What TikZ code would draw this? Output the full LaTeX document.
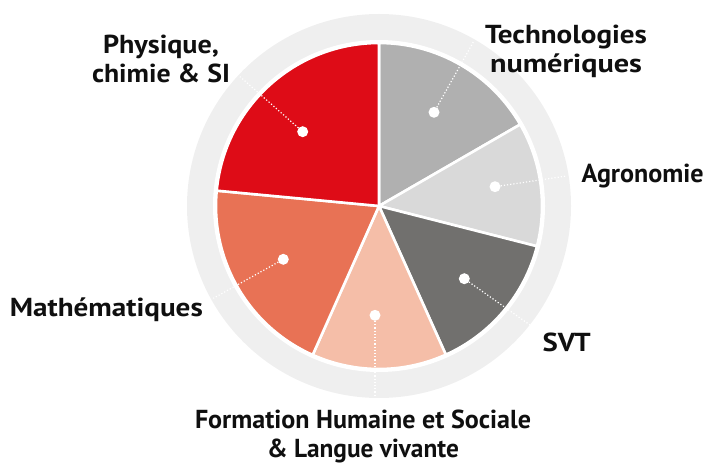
\documentclass[tikz,border=0pt]{standalone}
\usepackage{graphicx}
\usepackage{fontspec}
\setmainfont{PT Sans}
\definecolor{cphys}{RGB}{222,12,23}
\definecolor{ctech}{RGB}{176,176,176}
\definecolor{cagro}{RGB}{217,217,217}
\definecolor{csvt}{RGB}{113,112,110}
\definecolor{cfhs}{RGB}{245,190,168}
\definecolor{cmath}{RGB}{232,114,85}
\definecolor{cring}{RGB}{239,239,239}
\definecolor{ctext}{RGB}{15,15,15}
\newsavebox\lblbox
\newcommand\fitw[2]{\sbox\lblbox{#2}\pgfmathsetmacro\fitratio{#1/\the\wd\lblbox}\scalebox{\fitratio}[1]{\usebox\lblbox}}
\begin{document}
\begin{tikzpicture}[x=1pt,y=1pt,
  slice/.style={fill=#1,draw=white,line width=2.6pt,line join=round},
  dotmark/.style={circle,fill=white,draw=none,minimum size=11pt,inner sep=0pt},
  leader/.style={draw=white,line width=1.2pt,dotted},
  lab/.style={font=\fontsize{26}{29.4}\selectfont\bfseries,text=ctext,inner sep=0pt,align=center}]
\useasboundingbox (0,0) rectangle (708,466);
\coordinate (C) at (379,260);
\fill[cring] (C) circle[radius=192];
\fill[white] (C) circle[radius=166];
% slices
\path[slice=ctech] (C) -- ++(90:163) arc[start angle=90,end angle=30,radius=163] -- cycle;
\path[slice=cagro] (C) -- ++(30:163) arc[start angle=30,end angle=-14.3,radius=163] -- cycle;
\path[slice=csvt] (C) -- ++(-14.3:163) arc[start angle=-14.3,end angle=-65.8,radius=163] -- cycle;
\path[slice=cfhs] (C) -- ++(-65.8:163) arc[start angle=-65.8,end angle=-114,radius=163] -- cycle;
\path[slice=cmath] (C) -- ++(-114:163) arc[start angle=-114,end angle=-185.4,radius=163] -- cycle;
\path[slice=cphys] (C) -- ++(174.6:163) arc[start angle=174.6,end angle=90,radius=163] -- cycle;
% dots
\node[dotmark] (dphys) at (302.7,334.3) {};
\node[dotmark] (dtech) at (434,353.7) {};
\node[dotmark] (dagro) at (495,279.3) {};
\node[dotmark] (dsvt) at (464.3,187.3) {};
\node[dotmark] (dfhs) at (375,150.7) {};
\node[dotmark] (dmath) at (283.3,206.7) {};
% leader ends
\coordinate (ephys) at (240,389.3);
\coordinate (etech) at (473.3,424);
\coordinate (eagro) at (566.7,290);
\coordinate (esvt) at (530,141);
\coordinate (efhs) at (375,68);
\coordinate (emath) at (213.3,167.7);
\draw[leader] (dphys) -- (ephys);
\draw[leader] (dtech) -- (etech);
\draw[leader] (dagro) -- (eagro);
\draw[leader] (dsvt) -- (esvt);
\draw[leader] (dfhs) -- (efhs);
\draw[leader] (dmath) -- (emath);
% labels
\node[lab,anchor=north] (lphys) at (161,431.5) {\fitw{116}{Physique,}\\\fitw{138}{chimie \& SI}};
\node[lab,anchor=north] (ltech) at (566,441.5) {\fitw{162}{Technologies}\\\fitw{152}{numériques}};
\node[lab,anchor=base west] (lagro) at (581.5,283.3) {\fitw{122}{Agronomie}};
\node[lab,anchor=base west] (lsvt) at (542.5,114.3) {\fitw{48}{SVT}};
\node[lab,anchor=base east] (lmath) at (203,149.3) {\fitw{193}{Mathématiques}};
\node[lab,anchor=north] (lfhs) at (363,56.5) {\fitw{336}{Formation Humaine et Sociale}\\\fitw{192}{\& Langue vivante}};
\end{tikzpicture}
\end{document}
